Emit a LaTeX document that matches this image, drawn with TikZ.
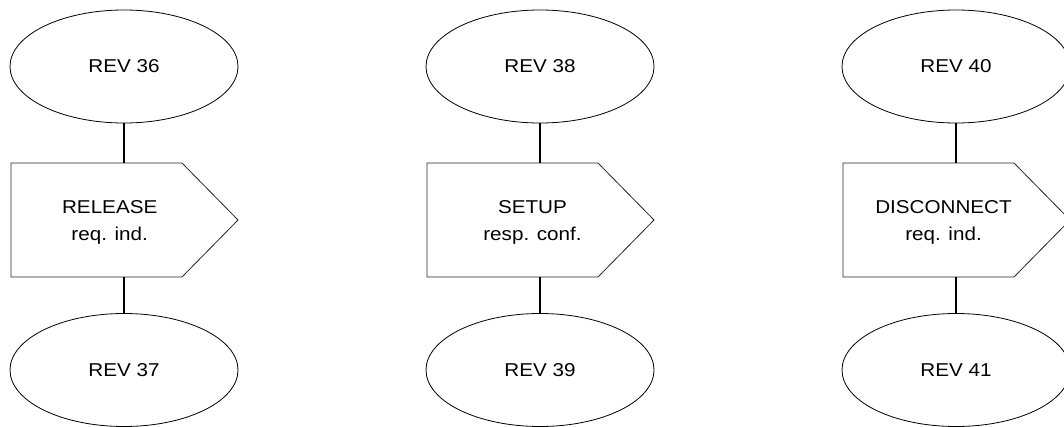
\documentclass[tikz,border=0pt]{standalone}
\usepackage{fontspec}
\setmainfont{Liberation Sans}[FakeStretch=1.11]
\usetikzlibrary{shapes.geometric}
\begin{document}
\begin{tikzpicture}[x=1pt,y=1pt,
  ev/.style={ellipse, draw=black, line width=0.8pt, minimum width=228pt, minimum height=113pt, inner sep=0pt, font=\fontsize{18.6}{27}\selectfont},
  sigbox/.style={draw=black!85, line width=0.8pt},
  conn/.style={draw=black, line width=1.8pt},
  lbl/.style={align=center, inner sep=0pt, font=\fontsize{18.6}{27}\selectfont}]
\useasboundingbox (0,0) rectangle (1064,426);
\clip (0,0) rectangle (1064,426);
% group 1
\node[ev] (a1) at (124,359.5) {REV 36};
\node[ev] (b1) at (124,56) {REV 37};
\draw[sigbox] (11,263) -- (182,263) -- (238,206) -- (182,149) -- (11,149) -- cycle;
\coordinate (t1) at (124,263);
\coordinate (u1) at (124,149);
\node[lbl] (s1) at (109.7,204) {RELEASE\\req. ind.};
\draw[conn] (a1.south) -- (t1);
\draw[conn] (u1) -- (b1.north);
% group 2
\node[ev] (a2) at (540,359.5) {REV 38};
\node[ev] (b2) at (540,56) {REV 39};
\draw[sigbox] (427,263) -- (598,263) -- (654,206) -- (598,149) -- (427,149) -- cycle;
\coordinate (t2) at (540,263);
\coordinate (u2) at (540,149);
\node[lbl] (s2) at (532.5,204) {SETUP\\resp. conf.};
\draw[conn] (a2.south) -- (t2);
\draw[conn] (u2) -- (b2.north);
% group 3
\node[ev] (a3) at (956,359.5) {REV 40};
\node[ev] (b3) at (956,56) {REV 41};
\draw[sigbox] (843,263) -- (1014,263) -- (1070,206) -- (1014,149) -- (843,149) -- cycle;
\coordinate (t3) at (956,263);
\coordinate (u3) at (956,149);
\node[lbl] (s3) at (943.5,204) {DISCONNECT\\req. ind.};
\draw[conn] (a3.south) -- (t3);
\draw[conn] (u3) -- (b3.north);
\end{tikzpicture}
\end{document}
